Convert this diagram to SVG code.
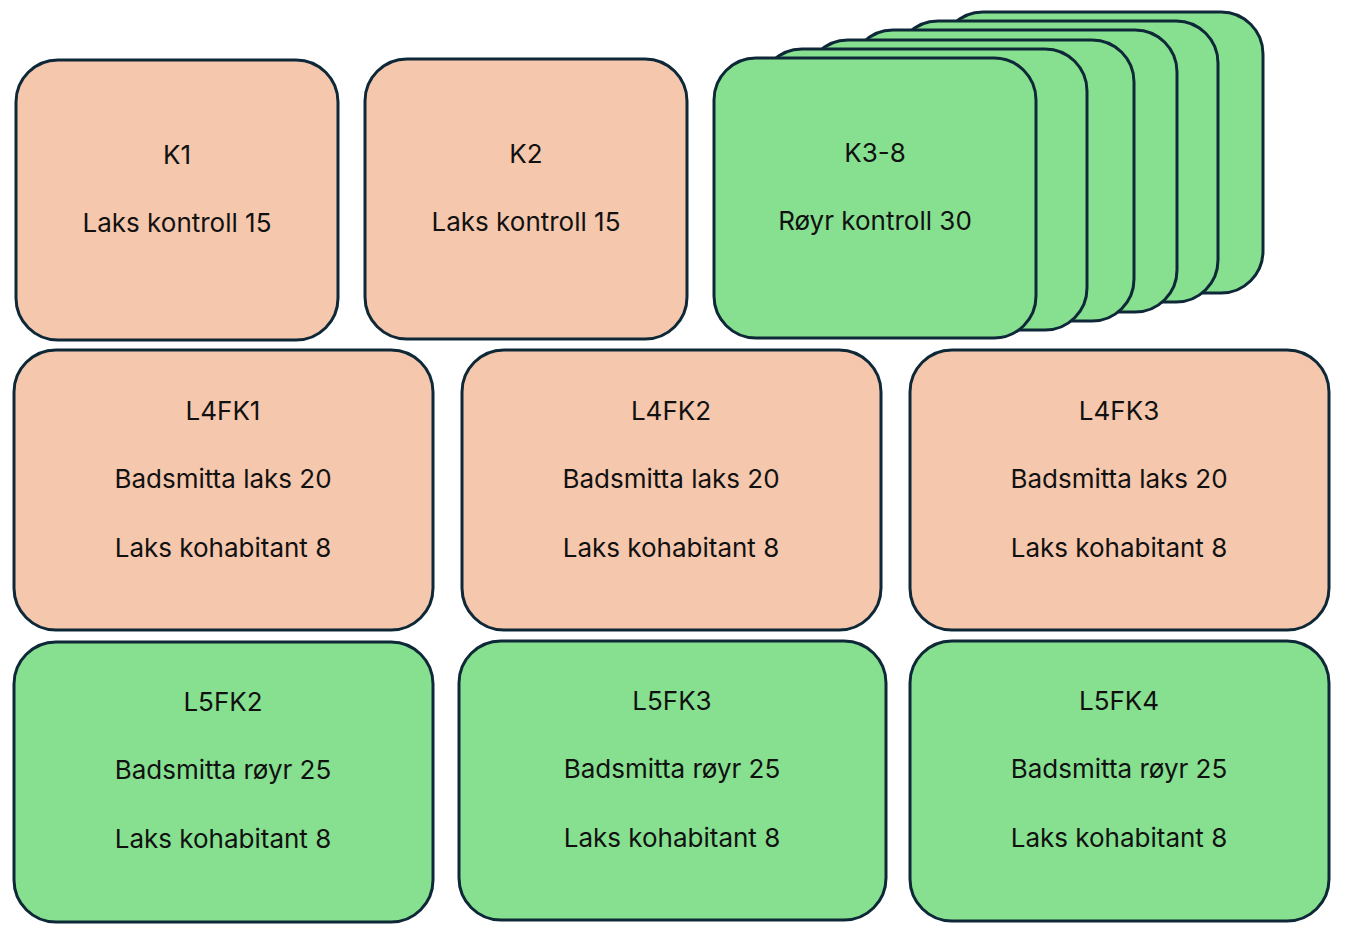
<svg xmlns="http://www.w3.org/2000/svg" width="1346" height="944" viewBox="0 0 1346 944">
<style>
rect{stroke:#0e2838;stroke-width:3}
.s{fill:#f5c7ad}.g{fill:#86e08f}
text{font-family:"Inter","Liberation Sans",sans-serif;font-size:26px;fill:#111;text-anchor:middle}
</style>
<rect width="1346" height="944" fill="#fff" style="stroke:none"/>
<g id="K1"><rect class="s" x="16" y="60" width="322" height="280" rx="42"/><text x="177" y="164">K1</text><text x="177" y="232">Laks kontroll 15</text></g>
<g id="K2"><rect class="s" x="365" y="59" width="322" height="280" rx="42"/><text x="526" y="163">K2</text><text x="526" y="231">Laks kontroll 15</text></g>
<g id="K3-8">
<rect class="g" x="941" y="12" width="322" height="281" rx="42"/>
<rect class="g" x="896" y="21" width="322" height="281" rx="42"/>
<rect class="g" x="851" y="30" width="326" height="282" rx="42"/>
<rect class="g" x="806" y="40" width="328" height="281" rx="42"/>
<rect class="g" x="760" y="49" width="327" height="281" rx="42"/>
<rect class="g" x="714" y="58" width="322" height="280" rx="42"/>
<text x="875" y="162">K3-8</text><text x="875" y="230">Røyr kontroll 30</text></g>
<g id="L4FK1"><rect class="s" x="14" y="350" width="419" height="280" rx="42"/><text x="223" y="420">L4FK1</text><text x="223" y="488">Badsmitta laks 20</text><text x="223" y="557">Laks kohabitant 8</text></g>
<g id="L4FK2"><rect class="s" x="462" y="350" width="419" height="280" rx="42"/><text x="671" y="420">L4FK2</text><text x="671" y="488">Badsmitta laks 20</text><text x="671" y="557">Laks kohabitant 8</text></g>
<g id="L4FK3"><rect class="s" x="910" y="350" width="419" height="280" rx="42"/><text x="1119" y="420">L4FK3</text><text x="1119" y="488">Badsmitta laks 20</text><text x="1119" y="557">Laks kohabitant 8</text></g>
<g id="L5FK2"><rect class="g" x="14" y="642" width="419" height="280" rx="42"/><text x="223" y="711">L5FK2</text><text x="223" y="779">Badsmitta røyr 25</text><text x="223" y="848">Laks kohabitant 8</text></g>
<g id="L5FK3"><rect class="g" x="459" y="641" width="427" height="279" rx="42"/><text x="672" y="710">L5FK3</text><text x="672" y="778">Badsmitta røyr 25</text><text x="672" y="847">Laks kohabitant 8</text></g>
<g id="L5FK4"><rect class="g" x="910" y="641" width="419" height="280" rx="42"/><text x="1119" y="710">L5FK4</text><text x="1119" y="778">Badsmitta røyr 25</text><text x="1119" y="847">Laks kohabitant 8</text></g>
<g id="connectors"/>
</svg>
